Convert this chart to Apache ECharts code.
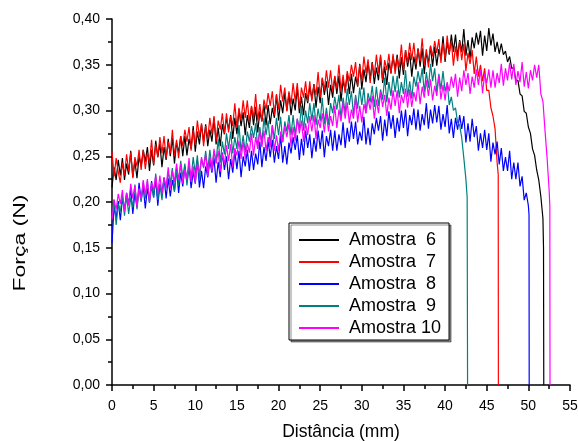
<!DOCTYPE html>
<html>
<head>
<meta charset="utf-8">
<script src="https://cdn.jsdelivr.net/npm/echarts@6/dist/echarts.min.js"></script>
<style>
html,body{margin:0;padding:0;background:#fff;}
#chart{width:578px;height:441px;}
</style>
</head>
<body>
<div id="chart"></div>
<script>
// Distance step between samples (mm) and forces in mN (1000 mN = 1 N)
const passo_mm = 0.25;

const nomes = ['Amostra  6', 'Amostra  7', 'Amostra  8', 'Amostra  9', 'Amostra 10'];
const cores = ['#000000', '#ff0000', '#0000ff', '#008080', '#ff00ff'];

const amostra6_mN = [
216,238,224,246, 229,248,224,242, 230,256,227,245, 226,250,239,257, 244,260,234,257,
240,267,249,264, 238,260,246,269, 250,270,242,265, 254,272,250,272, 251,269,258,283,
255,277,263,285, 266,285,261,279, 266,292,263,281, 261,285,274,292, 279,295,269,292,
274,301,283,298, 273,295,281,304, 284,304,276,299, 288,306,284,306, 285,303,292,317,
289,311,297,319, 300,319,295,313, 300,326,297,315, 295,319,308,326, 313,329,303,326,
308,335,317,332, 306,328,314,337, 318,338,310,333, 322,340,318,340, 319,337,326,351,
323,345,331,353, 334,353,329,347, 333,359,330,348, 328,352,341,359, 345,361,335,358,
339,366,348,363, 337,359,345,368, 348,368,340,363, 352,370,348,370, 349,367,356,381,
353,375,361,383, 364,383,359,377, 364,389,360,377, 357,380,368,385, 372,387,360,382,
365,390,371,384, 364,375,362,373, 361,365,353,359, 346,347,332,333, 318,316,299,297,
282,275,258,251, 235,224,206,182
];
const amostra6_final = [[51.82, 150], [51.85, 0]];

const amostra7_mN = [
255,228,248,233, 221,243,229,252, 234,254,226,249, 239,257,235,257, 236,254,243,268,
241,263,249,271, 253,272,248,266, 253,279,250,268, 248,272,261,279, 266,282,256,279,
262,289,271,286, 261,283,269,292, 274,294,266,289, 279,297,275,297, 276,294,283,308,
281,303,289,311, 292,311,287,305, 292,318,289,307, 288,312,301,319, 305,321,295,318,
301,328,310,325, 299,321,307,330, 310,330,302,325, 314,332,310,332, 310,328,317,342,
314,336,322,344, 325,344,320,338, 324,350,321,339, 319,343,332,350, 337,353,327,350,
332,359,341,356, 330,352,338,361, 341,361,333,355, 344,362,340,362, 340,358,347,372,
344,366,352,374, 355,374,350,367, 354,379,350,367, 347,371,359,376, 363,378,352,374,
356,382,362,376, 349,370,354,376, 355,373,343,363, 351,366,340,359, 337,350,332,346,
322,322,303,294, 280,243
];
const amostra7_final = [[46.38, 230], [46.4, 0]];

const amostra8_mN = [
155,195,182,201, 180,204,192,210, 198,214,187,210, 194,221,202,217, 193,215,200,223,
205,225,196,219, 209,227,204,226, 206,224,212,237, 210,232,217,239, 221,240,215,233,
220,246,216,234, 215,239,227,245, 232,248,221,244, 227,254,235,250, 225,247,232,255,
236,256,227,250, 239,257,234,256, 235,253,241,266, 238,260,245,267, 249,268,243,261,
247,273,243,261, 241,265,253,271, 257,273,246,269, 251,278,259,274, 248,270,255,278,
258,278,249,272, 261,279,256,278, 256,274,262,287, 259,281,266,288, 269,288,263,277,
267,293,263,281, 262,286,274,292, 278,294,267,290, 272,299,280,295, 270,292,277,300,
281,301,272,295, 284,302,279,301, 278,296,284,308, 280,301,286,306, 287,305,279,296,
282,306,275,291, 270,292,279,295, 280,294,265,286, 266,291,271,283, 256,275,259,279,
257,275,244,265, 252,266,241,259, 234,249,234,256, 225,243,225,243, 217,228,202,210,
196
];
const amostra8_final = [[50.08, 186], [50.1, 0]];

const amostra9_mN = [
183,203,175,198, 189,207,185,207, 187,205,194,219, 192,214,200,222, 204,223,199,217,
205,231,202,220, 202,226,215,233, 221,237,211,234, 218,245,227,242, 218,240,226,249,
231,251,224,247, 238,256,235,257, 237,255,244,269, 243,266,252,275, 258,277,253,271,
258,284,255,273, 254,277,266,283, 270,286,259,282, 265,292,273,289, 262,284,269,292,
273,293,265,288, 277,295,273,295, 273,291,280,305, 278,300,286,308, 289,308,284,302,
288,314,285,303, 284,308,297,315, 301,317,291,314, 297,324,306,321, 295,317,302,325,
306,325,297,319, 309,327,304,326, 305,323,312,336, 309,331,316,338, 320,338,314,331,
318,344,315,332, 313,337,326,343, 330,346,320,342, 325,351,332,346, 320,340,323,343,
321,330,306,315, 300,303,287,284, 270,248,225
];
const amostra9_final = [[42.65, 205], [42.7, 0]];

const amostra10_mN = [
181,202,192,209, 198,213,189,210, 196,220,204,218, 195,215,203,224, 207,225,200,221,
213,229,209,229, 209,226,216,238, 214,234,222,242, 224,242,220,236, 225,248,222,239,
221,242,232,249, 237,252,228,249, 234,258,242,256, 233,253,241,262, 245,263,238,259,
251,267,247,266, 247,264,254,275, 251,271,258,278, 260,278,256,271, 260,283,256,273,
256,277,266,283, 271,286,261,282, 267,291,275,289, 266,286,273,294, 277,295,269,290,
281,297,276,297, 277,294,283,305, 281,301,288,309, 291,309,286,301, 291,314,287,305,
287,307,297,313, 301,316,291,312, 297,320,304,317, 294,314,301,322, 305,322,297,317,
308,324,303,323, 304,320,310,331, 307,326,314,333, 316,334,311,327, 316,338,312,328,
311,331,321,337, 325,340,315,336, 321,344,328,341, 318,337,325,345, 328,345,319,340,
330,345,325,344, 325,341,330,351, 327,346,333,352, 334,351,328,343, 331,353,326,342,
324,344,333,350, 336,350,318,310, 278,248,212
];
const amostra10_final = [[52.58, 195], [52.6, 0]];

const xTicks = {min: 0, max: 55, interval: 5};
const yTicks = {min: 0, max: 0.40, interval: 0.05};

const valores = [amostra6_mN, amostra7_mN, amostra8_mN, amostra9_mN, amostra10_mN];
const finais = [amostra6_final, amostra7_final, amostra8_final, amostra9_final, amostra10_final];

function montar(vals, fim) {
  const d = vals.map((v, i) => [i * passo_mm, v / 1000]);
  fim.forEach(p => d.push([p[0], p[1] / 1000]));
  return d;
}

const FONT = '"Liberation Sans", Arial, sans-serif';

const chart = echarts.init(document.getElementById('chart'), null, {renderer: 'canvas'});

const eixoComum = {
  axisLine: {show: true, onZero: false, lineStyle: {color: '#000', width: 1.5}},
  axisTick: {show: true, inside: false, length: 6, lineStyle: {color: '#000', width: 1.5}},
  minorTick: {show: true, splitNumber: 2, length: 4, lineStyle: {color: '#000', width: 1.5}},
  splitLine: {show: false},
  minorSplitLine: {show: false}
};

chart.setOption({
  animation: false,
  backgroundColor: '#fff',
  grid: {left: 112, right: 8, top: 19, bottom: 56, containLabel: false, outerBoundsMode: 'none'},
  xAxis: Object.assign({
    type: 'value',
    min: xTicks.min, max: xTicks.max, interval: xTicks.interval,
    axisLabel: {color: '#000', fontSize: 14, margin: 14, fontFamily: FONT},
    name: 'Distância (mm)',
    nameLocation: 'middle',
    nameGap: 38,
    nameTextStyle: {color: '#000', fontSize: 17.5, fontFamily: FONT}
  }, eixoComum),
  yAxis: Object.assign({
    type: 'value',
    min: yTicks.min, max: yTicks.max, interval: yTicks.interval,
    axisLabel: {
      color: '#000', fontSize: 14, margin: 12, fontFamily: FONT,
      formatter: v => v.toFixed(2).replace('.', ',')
    }
  }, eixoComum),
  legend: {
    orient: 'vertical',
    left: 289, top: 223,
    padding: [8, 8, 3, 10],
    itemGap: 4,
    itemWidth: 40, itemHeight: 2,
    icon: 'rect',
    backgroundColor: '#fff',
    borderColor: '#000', borderWidth: 1,
    shadowColor: 'rgba(0,0,0,0.45)', shadowOffsetX: 2, shadowOffsetY: 2, shadowBlur: 0,
    textStyle: {color: '#000', fontSize: 18, fontFamily: FONT, padding: [0, 0, 0, 5]},
    data: nomes
  },
  graphic: [{
    type: 'text',
    x: 20, y: 243,
    rotation: Math.PI / 2,
    scaleX: 1.35,
    style: {
      text: 'Força (N)',
      fill: '#000',
      font: '17px ' + FONT,
      textAlign: 'center',
      textVerticalAlign: 'middle'
    }
  }],
  series: valores.map((vals, k) => ({
    name: nomes[k],
    type: 'line',
    data: montar(vals, finais[k]),
    showSymbol: false,
    symbol: 'none',
    lineStyle: {color: cores[k], width: 1.2},
    itemStyle: {color: cores[k]},
    emphasis: {disabled: true},
    z: 2 + k
  }))
});
</script>
</body>
</html>
